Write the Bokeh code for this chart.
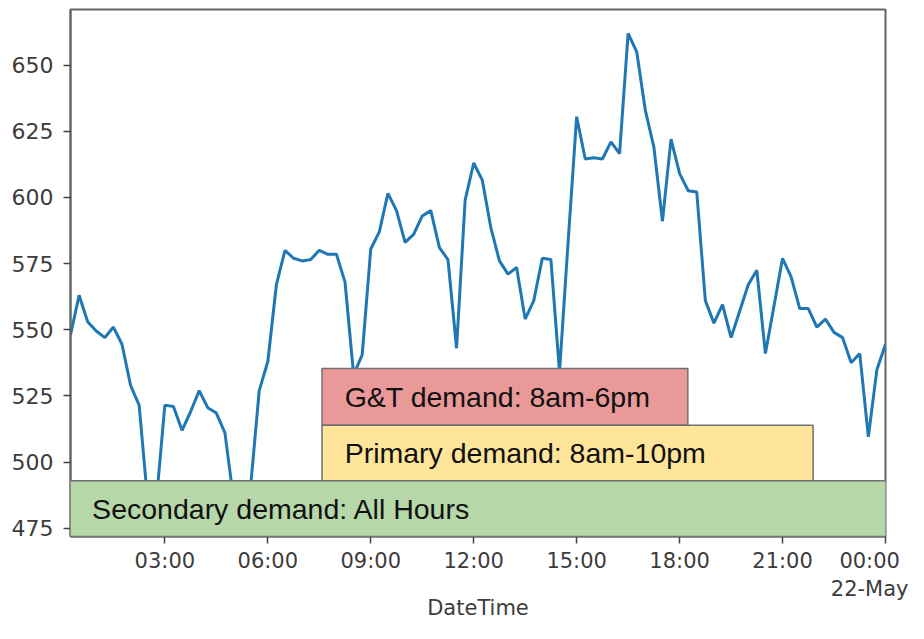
from bokeh.plotting import figure
from bokeh.models import FixedTicker, BoxAnnotation, Label, Range1d
from bokeh.embed import file_html
from bokeh.resources import INLINE

# Demand readings every 15 minutes, 00:15 on 21-May through 00:00 on 22-May
demand = [
    548, 563, 553, 549.5, 547, 551, 544.5, 529, 521.5, 485, 485, 521.5,
    521, 512, 519, 527, 520.5, 518.5, 511, 486, 478, 491, 527, 538,
    567, 580, 577, 576, 576.5, 580, 578.5, 578.5, 568, 533, 540.5, 580.5,
    587, 601.5, 595, 583, 586, 593, 595, 581, 576.5, 543, 599, 613,
    606.5, 588.5, 576, 571, 573.5, 554, 561, 577, 576.5, 534, 583, 630.5,
    614.5, 615, 614.5, 621, 616.5, 662, 655, 633, 619, 591, 622, 609,
    602.5, 602, 561, 552.5, 559.5, 547, 557, 567, 572.5, 541, 559, 577,
    570, 558, 558, 551, 554, 549, 547, 537.5, 541, 509.5, 535, 544.5,
]
# hour of day for each reading (0.25 = 00:15 ... 24 = 00:00 next day)
hours = [0.25 * (i + 1) for i in range(len(demand))]

x_ticks = [3, 6, 9, 12, 15, 18, 21, 24]
x_tick_labels = ["03:00", "06:00", "09:00", "12:00", "15:00", "18:00", "21:00", "00:00\n22-May"]
y_ticks = [475, 500, 525, 550, 575, 600, 625, 650]
x_title = "DateTime"

band_labels = ["G&T demand: 8am-6pm", "Primary demand: 8am-10pm", "Secondary demand: All Hours"]
band_colors = ["#ea9999", "#ffe599", "#b6d7a8"]

p = figure(
    width=908, height=623,
    output_backend="svg", toolbar_location=None,
    x_range=Range1d(0.25, 24), y_range=Range1d(471.86, 671.0),
    min_border_left=70, min_border_right=23, min_border_top=9, min_border_bottom=87,
)
p.grid.visible = False
p.background_fill_color = "white"
p.border_fill_color = "white"
p.outline_line_color = "#666666"
p.outline_line_width = 2

p.line(hours, demand, line_color="#1f77b4", line_width=3)

tick_color = "#3c3c3c"
for ax in (p.xaxis[0], p.yaxis[0]):
    ax.axis_line_color = "#666666"
    ax.axis_line_width = 2
    ax.major_tick_line_color = "#444444"
    ax.major_tick_line_width = 1.5
    ax.major_tick_out = 7
    ax.major_tick_in = 0
    ax.minor_tick_line_color = None
    ax.major_label_text_font = "DejaVu Sans"
    ax.major_label_text_font_size = "21px"
    ax.major_label_text_color = tick_color

p.yaxis.major_label_text_font_size = "22px"

p.xaxis.ticker = FixedTicker(ticks=x_ticks)
p.xaxis.major_label_overrides = {t: lab for t, lab in zip(x_ticks, x_tick_labels)}
p.xaxis.major_label_standoff = 5
p.xaxis.axis_label = x_title
p.xaxis.axis_label_text_font = "DejaVu Sans"
p.xaxis.axis_label_text_font_size = "21px"
p.xaxis.axis_label_text_font_style = "normal"
p.xaxis.axis_label_text_color = tick_color
p.xaxis.axis_label_standoff = -8

p.yaxis.ticker = FixedTicker(ticks=y_ticks)
p.yaxis.major_label_standoff = 10

# demand-window bands (G&T, Primary, Secondary)
boxes = [
    (7.58, 18.24, 535.38, 513.9),
    (7.58, 21.89, 513.9, 492.96),
    (0.23, 24.05, 492.96, 471.86),
]
text_x = [8.24, 8.24, 0.88]
for (l, r, t, b), col, lab, tx in zip(boxes, band_colors, band_labels, text_x):
    p.add_layout(BoxAnnotation(left=l, right=r, top=t, bottom=b,
                               fill_color=col, fill_alpha=1.0,
                               line_color="#707070", line_alpha=1.0, line_width=1.5))
    p.add_layout(Label(x=tx, y=(t + b) / 2, text=lab,
                       text_font="Liberation Sans", text_font_size="28.5px",
                       text_baseline="middle", text_align="left",
                       text_color="#111111"))

open("out.html", "w").write(file_html(p, INLINE))
